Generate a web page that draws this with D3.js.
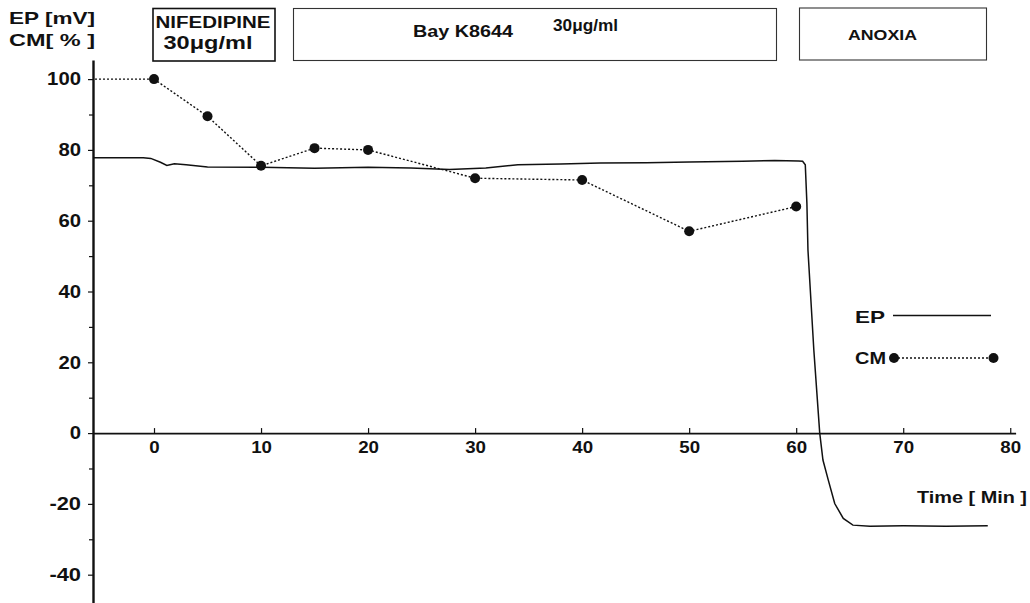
<!DOCTYPE html>
<html>
<head>
<meta charset="utf-8">
<script src="https://cdn.jsdelivr.net/npm/d3@7"></script>
<style>
  body { margin: 0; background: #fff; }
  text { font-family: "Liberation Sans", Arial, sans-serif; fill: #111; }
</style>
</head>
<body>
<script>
// CM (contraction, %) sampled at each measurement time
const cmTime  = [0, 5, 10, 15, 20, 30, 40, 50, 60];
const cmValue = [100, 89.5, 75.5, 80.5, 80, 72, 71.5, 57, 64];

// EP (membrane potential, mV) traced from the continuous recording
const epTime  = [-5.7, -1, -0.3, 0.6, 1.2, 1.9, 3, 5, 10, 15, 20, 24, 27.6, 31, 34, 38, 41.7, 46, 50, 55, 58, 60.2,
                 60.6, 60.85, 61.0, 61.1, 61.65, 62.2, 62.5, 63.0, 63.6, 64.4, 65.3, 66.9, 70, 74, 77.9];
const epValue = [77.8, 77.8, 77.6, 76.5, 75.6, 76.1, 75.8, 75.2, 75.1, 74.8, 75.1, 74.9, 74.5, 74.9, 75.8, 76.0, 76.3, 76.4, 76.6, 76.8, 77.0, 76.9,
                 76.8, 75.8, 65, 51.7, 23.4, 0, -7.6, -13.3, -19.9, -24.1, -26, -26.3, -26.2, -26.3, -26.2];

const xTicks = [0, 10, 20, 30, 40, 50, 60, 70, 80];
const yTicks = [-40, -20, 0, 20, 40, 60, 80, 100];
const yMinor = [-30, -10, 10, 30, 50, 70, 90];

const width = 1030, height = 603;

const x = d3.scaleLinear().domain([-5.7, 80.5]).range([93, 1015.6]);
const y = d3.scaleLinear().domain([-48, 105.4]).range([603, 60]);

const svg = d3.select("body").append("svg")
    .attr("width", width)
    .attr("height", height);

// stretched bold label, like the wide sans of the original
function label(g, tx, ty, str, size, len, anchor) {
    return g.append("text")
        .attr("x", tx).attr("y", ty)
        .attr("font-size", size).attr("font-weight", "bold")
        .attr("text-anchor", anchor || "start")
        .attr("textLength", len).attr("lengthAdjust", "spacingAndGlyphs")
        .text(str);
}

// x axis (ticks pointing up, labels below)
const xAxis = d3.axisBottom(x).tickValues(xTicks).tickSizeInner(-5).tickSizeOuter(0).tickPadding(8)
    .tickFormat(d => String(d));
const gx = svg.append("g")
    .attr("transform", `translate(0,${y(0)})`)
    .call(xAxis);
gx.select(".domain").attr("stroke", "#111").attr("stroke-width", 1.6);
gx.selectAll(".tick line").attr("stroke", "#111").attr("stroke-width", 1.2);
gx.selectAll(".tick text")
    .attr("font-size", 16.5).attr("font-weight", "bold")
    .attr("font-family", "Liberation Sans, Arial, sans-serif").attr("fill", "#111")
    .attr("textLength", d => String(d).length * 10.4).attr("lengthAdjust", "spacingAndGlyphs");

// y axis
const yAxis = d3.axisLeft(y).tickValues(yTicks).tickSizeInner(5).tickSizeOuter(0).tickPadding(7)
    .tickFormat(d => String(d));
const gy = svg.append("g")
    .attr("transform", `translate(${x.range()[0]},0)`)
    .call(yAxis);
gy.select(".domain").attr("stroke", "#111").attr("stroke-width", 2.4);
gy.selectAll(".tick line").attr("stroke", "#111").attr("stroke-width", 1.2);
gy.selectAll(".tick text")
    .attr("font-size", 18).attr("font-weight", "bold")
    .attr("font-family", "Liberation Sans, Arial, sans-serif").attr("fill", "#111")
    .attr("textLength", d => String(Math.abs(d)).length * 11.3 + (d < 0 ? 9 : 0))
    .attr("lengthAdjust", "spacingAndGlyphs");

const gyMinor = svg.append("g")
    .attr("transform", `translate(${x.range()[0]},0)`)
    .call(d3.axisLeft(y).tickValues(yMinor).tickSize(4).tickFormat(""));
gyMinor.select(".domain").remove();
gyMinor.selectAll(".tick line").attr("stroke", "#111").attr("stroke-width", 1.2);

// EP trace
const epLine = d3.line().x(d => x(d[0])).y(d => y(d[1]));
svg.append("path")
    .datum(epTime.map((t, i) => [t, epValue[i]]))
    .attr("d", epLine)
    .attr("fill", "none")
    .attr("stroke", "#111")
    .attr("stroke-width", 1.5);

// CM: dotted lead-in from the axis, then dotted polyline with dots
const cmData = cmTime.map((t, i) => [t, cmValue[i]]);
svg.append("line")
    .attr("x1", x.range()[0] + 2).attr("y1", y(cmValue[0]))
    .attr("x2", x(cmTime[0])).attr("y2", y(cmValue[0]))
    .attr("stroke", "#111").attr("stroke-width", 1.4).attr("stroke-dasharray", "2,2");
svg.append("path")
    .datum(cmData)
    .attr("d", d3.line().x(d => x(d[0])).y(d => y(d[1])))
    .attr("fill", "none")
    .attr("stroke", "#111")
    .attr("stroke-width", 1.4)
    .attr("stroke-dasharray", "2,2");
svg.selectAll("circle.cm")
    .data(cmData)
    .enter()
    .append("circle")
    .attr("class", "cm")
    .attr("cx", d => x(d[0]))
    .attr("cy", d => y(d[1]))
    .attr("r", 5)
    .attr("fill", "#111");

// axis titles
label(svg, 9, 24, "EP [mV]", 17, 86);
label(svg, 9, 46, "CM[ % ]", 17, 86);
label(svg, 917, 503, "Time [ Min ]", 17, 110);

// treatment boxes
const boxes = svg.append("g");
boxes.append("rect").attr("x", 153).attr("y", 8.5).attr("width", 122).attr("height", 52.5)
    .attr("fill", "none").attr("stroke", "#111").attr("stroke-width", 1.6);
label(boxes, 213, 28, "NIFEDIPINE", 16, 115, "middle");
label(boxes, 208, 49, "30μg/ml", 17.5, 89, "middle");

boxes.append("rect").attr("x", 293.5).attr("y", 8.5).attr("width", 483).attr("height", 52)
    .attr("fill", "none").attr("stroke", "#333").attr("stroke-width", 1.1);
label(boxes, 413, 37, "Bay K8644", 16, 100);
label(boxes, 553, 31, "30μg/ml", 17, 65);

boxes.append("rect").attr("x", 799.5).attr("y", 8).attr("width", 187).attr("height", 52)
    .attr("fill", "none").attr("stroke", "#333").attr("stroke-width", 1.1);
label(boxes, 848, 39.5, "ANOXIA", 15.5, 69);

// legend
const lg = svg.append("g");
label(lg, 855, 323, "EP", 17, 30);
lg.append("line").attr("x1", 893).attr("x2", 991).attr("y1", 315.5).attr("y2", 315.5)
    .attr("stroke", "#111").attr("stroke-width", 1.5);
label(lg, 855, 364, "CM", 17, 31);
lg.append("line").attr("x1", 894).attr("x2", 993.5).attr("y1", 358).attr("y2", 358)
    .attr("stroke", "#111").attr("stroke-width", 1.4).attr("stroke-dasharray", "2,2");
lg.selectAll("circle").data([894, 993.5]).enter().append("circle")
    .attr("cx", d => d).attr("cy", 358).attr("r", 5).attr("fill", "#111");
</script>
</body>
</html>
